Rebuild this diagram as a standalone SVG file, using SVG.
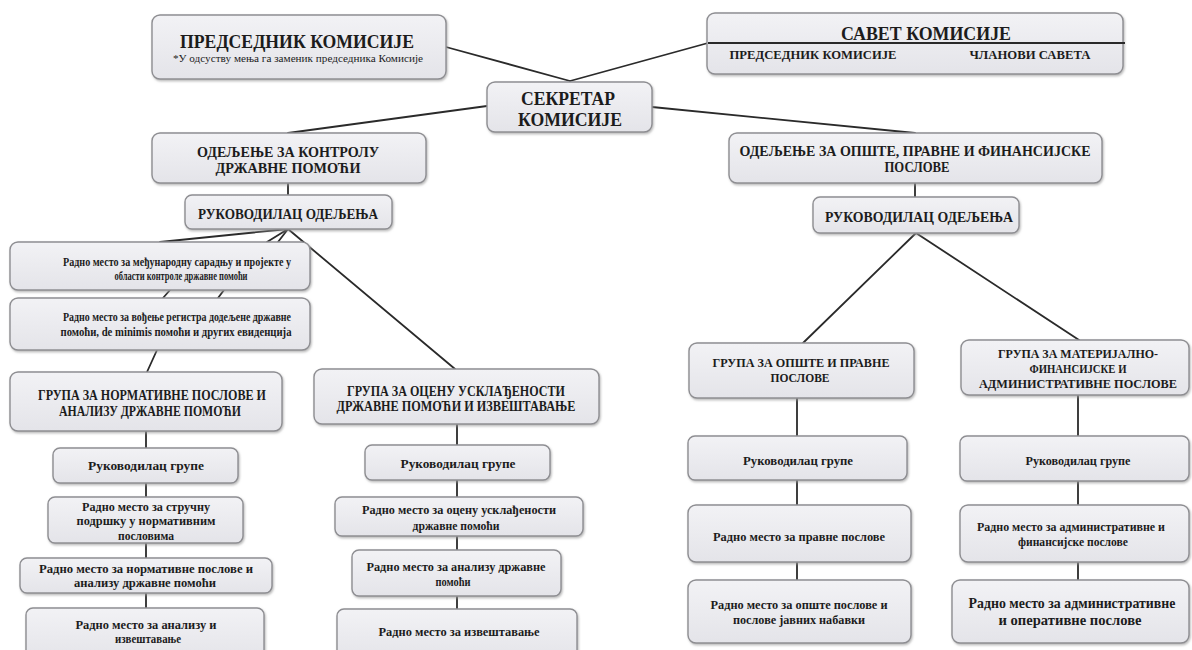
<svg xmlns="http://www.w3.org/2000/svg" width="1192" height="650" viewBox="0 0 1192 650">
<defs>
<linearGradient id="g" x1="0" y1="0" x2="0" y2="1">
<stop offset="0" stop-color="#f2f2f5"/>
<stop offset="1" stop-color="#e4e4e9"/>
</linearGradient>
<filter id="sh" x="-5%" y="-10%" width="110%" height="125%">
<feDropShadow dx="1" dy="1.5" stdDeviation="0.8" flood-color="#9a9a9a" flood-opacity="0.7"/>
</filter>
</defs>
<style>
.box{fill:url(#g);stroke:#8e8e92;stroke-width:1.4;filter:url(#sh)}
.t{font-family:"Liberation Serif","Times New Roman",serif;font-weight:bold;fill:#1c1c1c;text-anchor:middle}
.h17{font-size:18px}
.h14{font-size:14px}
.h13{font-size:14px}
.h12{font-size:13px}
.h11{font-size:12.5px}
.h10{font-size:11.5px}
.h9{font-size:10px}
.conn line{stroke:#2a2a2a;stroke-width:1.8;stroke-linecap:round}
</style>
<rect width="1192" height="650" fill="#ffffff"/>

<g id="connectors" class="conn">
<line x1="446" y1="47" x2="570" y2="81"/>
<line x1="570" y1="81" x2="708" y2="43"/>
<line x1="487" y1="106" x2="288" y2="133"/>
<line x1="652" y1="107" x2="915" y2="133"/>
<line x1="288" y1="183" x2="288" y2="195"/>
<line x1="915" y1="183" x2="915" y2="197"/>
<line x1="288" y1="229" x2="160" y2="242"/>
<line x1="288" y1="229" x2="267" y2="242"/>
<line x1="288" y1="229" x2="278" y2="242"/>
<line x1="288" y1="229" x2="455" y2="369"/>
<line x1="170" y1="290" x2="163" y2="298"/>
<line x1="224" y1="290" x2="218" y2="298"/>
<line x1="157" y1="350" x2="147" y2="372"/>
<line x1="146" y1="431" x2="146" y2="448"/>
<line x1="146" y1="483" x2="146" y2="497"/>
<line x1="146" y1="543" x2="146" y2="558"/>
<line x1="146" y1="593" x2="146" y2="608"/>
<line x1="457" y1="424" x2="457" y2="445"/>
<line x1="457" y1="480" x2="457" y2="497"/>
<line x1="457" y1="536" x2="457" y2="550"/>
<line x1="457" y1="596" x2="457" y2="609"/>
<line x1="916" y1="233" x2="803" y2="343"/>
<line x1="916" y1="233" x2="1079" y2="340"/>
<line x1="797" y1="398" x2="797" y2="436"/>
<line x1="797" y1="480" x2="797" y2="505"/>
<line x1="797" y1="562" x2="797" y2="580"/>
<line x1="1078" y1="395" x2="1078" y2="436"/>
<line x1="1078" y1="481" x2="1078" y2="505"/>
<line x1="1078" y1="562" x2="1078" y2="580"/>
</g>

<g id="predsednik">
<rect class="box" x="152" y="15" width="294" height="64" rx="8"/>
<text class="t h17" x="297" y="48" textLength="234" lengthAdjust="spacingAndGlyphs">ПРЕДСЕДНИК КОМИСИЈЕ</text>
<text class="t h9" x="298" y="62" style="font-weight:normal" textLength="250" lengthAdjust="spacingAndGlyphs">*У одсуству мења га заменик  председника  Комисије</text>
</g>

<g id="savet">
<rect class="box" x="707" y="13" width="416" height="61" rx="8"/>
<text class="t h17" x="926" y="40" textLength="170" lengthAdjust="spacingAndGlyphs">САВЕТ КОМИСИЈЕ</text>
<line x1="708" y1="43" x2="1125" y2="43" stroke="#2a2a2a" stroke-width="1.8"/>
<text class="t h11" x="813" y="59" textLength="167" lengthAdjust="spacingAndGlyphs">ПРЕДСЕДНИК  КОМИСИЈЕ</text>
<text class="t h11" x="1030" y="59" textLength="121" lengthAdjust="spacingAndGlyphs">ЧЛАНОВИ  САВЕТА</text>
</g>

<g id="sekretar">
<rect class="box" x="487" y="82" width="165" height="50" rx="8"/>
<text class="t h17" x="568" y="105" textLength="94" lengthAdjust="spacingAndGlyphs">СЕКРЕТАР</text>
<text class="t h17" x="570" y="126" textLength="104" lengthAdjust="spacingAndGlyphs">КОМИСИЈЕ</text>
</g>

<g id="odeljenje-kontrola">
<rect class="box" x="152" y="133" width="274" height="50" rx="8"/>
<text class="t h13" x="288" y="157" textLength="182" lengthAdjust="spacingAndGlyphs">ОДЕЉЕЊЕ ЗА КОНТРОЛУ</text>
<text class="t h13" x="288" y="173" textLength="145" lengthAdjust="spacingAndGlyphs">ДРЖАВНЕ ПОМОЋИ</text>
</g>

<g id="odeljenje-opste">
<rect class="box" x="729" y="133" width="373" height="50" rx="8"/>
<text class="t h13" x="915" y="156" textLength="351" lengthAdjust="spacingAndGlyphs">ОДЕЉЕЊЕ ЗА ОПШТЕ, ПРАВНЕ И ФИНАНСИЈСКЕ</text>
<text class="t h13" x="917" y="172" textLength="65" lengthAdjust="spacingAndGlyphs">ПОСЛОВЕ</text>
</g>

<g id="rukovodilac-odeljenja-l">
<rect class="box" x="185" y="195" width="207" height="34" rx="7"/>
<text class="t h13" x="288" y="219" textLength="180" lengthAdjust="spacingAndGlyphs">РУКОВОДИЛАЦ  ОДЕЉЕЊА</text>
</g>

<g id="rukovodilac-odeljenja-r">
<rect class="box" x="813" y="197" width="206" height="36" rx="7"/>
<text class="t h13" x="919" y="222" textLength="188" lengthAdjust="spacingAndGlyphs">РУКОВОДИЛАЦ  ОДЕЉЕЊА</text>
</g>

<g id="rm-medjunarodna">
<rect class="box" x="10" y="242" width="300" height="48" rx="8"/>
<text class="t h10" x="177" y="266" textLength="228" lengthAdjust="spacingAndGlyphs">Радно место за међународну сарадњу и пројекте у</text>
<text class="t h10" x="181" y="280" textLength="133" lengthAdjust="spacingAndGlyphs">области контроле државне помоћи</text>
</g>

<g id="rm-registar">
<rect class="box" x="10" y="298" width="300" height="52" rx="8"/>
<text class="t h10" x="177" y="321" textLength="228" lengthAdjust="spacingAndGlyphs">Радно место за вођење регистра додељене државне</text>
<text class="t h10" x="176" y="336" textLength="231" lengthAdjust="spacingAndGlyphs">помоћи, de minimis помоћи и других евиденција</text>
</g>

<g id="grupa-normativne">
<rect class="box" x="10" y="372" width="272" height="59" rx="8"/>
<text class="t h13" x="152" y="400" textLength="228" lengthAdjust="spacingAndGlyphs">ГРУПА ЗА НОРМАТИВНЕ  ПОСЛОВЕ  И</text>
<text class="t h13" x="150" y="416" textLength="182" lengthAdjust="spacingAndGlyphs">АНАЛИЗУ ДРЖАВНЕ  ПОМОЋИ</text>
</g>

<g id="grupa-ocena">
<rect class="box" x="314" y="369" width="285" height="55" rx="8"/>
<text class="t h13" x="456" y="396" textLength="218" lengthAdjust="spacingAndGlyphs">ГРУПА  ЗА ОЦЕНУ  УСКЛАЂЕНОСТИ</text>
<text class="t h13" x="456" y="411" textLength="239" lengthAdjust="spacingAndGlyphs">ДРЖАВНЕ  ПОМОЋИ  И ИЗВЕШТАВАЊЕ</text>
</g>

<g id="rg-normativne">
<rect class="box" x="53" y="448" width="185" height="35" rx="7"/>
<text class="t h11" x="146" y="470" textLength="116" lengthAdjust="spacingAndGlyphs">Руководилац групе</text>
</g>

<g id="rm-strucna">
<rect class="box" x="48" y="497" width="195" height="46" rx="7"/>
<text class="t h10" x="146" y="511" textLength="128" lengthAdjust="spacingAndGlyphs">Радно место за стручну</text>
<text class="t h10" x="146" y="525" textLength="139" lengthAdjust="spacingAndGlyphs">подршку  у нормативним</text>
<text class="t h10" x="146" y="540" textLength="56" lengthAdjust="spacingAndGlyphs">пословима</text>
</g>

<g id="rm-normativne">
<rect class="box" x="20" y="558" width="252" height="35" rx="7"/>
<text class="t h10" x="146" y="573" textLength="214" lengthAdjust="spacingAndGlyphs">Радно место за нормативне  послове  и</text>
<text class="t h10" x="145" y="587" textLength="142" lengthAdjust="spacingAndGlyphs">анализу  државне  помоћи</text>
</g>

<g id="rm-analiza-izvestavanje">
<rect class="box" x="26" y="608" width="238" height="52" rx="7"/>
<text class="t h10" x="146" y="629" textLength="141" lengthAdjust="spacingAndGlyphs">Радно место за анализу  и</text>
<text class="t h10" x="148" y="643" textLength="66" lengthAdjust="spacingAndGlyphs">извештавање</text>
</g>

<g id="rg-ocena">
<rect class="box" x="365" y="445" width="185" height="35" rx="7"/>
<text class="t h11" x="458" y="468" textLength="115" lengthAdjust="spacingAndGlyphs">Руководилац групе</text>
</g>

<g id="rm-ocena">
<rect class="box" x="335" y="497" width="248" height="39" rx="7"/>
<text class="t h10" x="459" y="514" textLength="194" lengthAdjust="spacingAndGlyphs">Радно место за оцену  усклађености</text>
<text class="t h10" x="456" y="530" textLength="87" lengthAdjust="spacingAndGlyphs">државне помоћи</text>
</g>

<g id="rm-analiza">
<rect class="box" x="352" y="550" width="209" height="46" rx="7"/>
<text class="t h10" x="456" y="571" textLength="179" lengthAdjust="spacingAndGlyphs">Радно место за анализу  државне</text>
<text class="t h10" x="453" y="586" textLength="35" lengthAdjust="spacingAndGlyphs">помоћи</text>
</g>

<g id="rm-izvestavanje">
<rect class="box" x="337" y="609" width="240" height="52" rx="7"/>
<text class="t h10" x="459" y="636" textLength="161" lengthAdjust="spacingAndGlyphs">Радно место за извештавање</text>
</g>

<g id="grupa-opste">
<rect class="box" x="689" y="343" width="225" height="55" rx="8"/>
<text class="t h12" x="801" y="367" textLength="177" lengthAdjust="spacingAndGlyphs">ГРУПА  ЗА ОПШТЕ  И ПРАВНЕ</text>
<text class="t h12" x="800" y="382" textLength="59" lengthAdjust="spacingAndGlyphs">ПОСЛОВЕ</text>
</g>

<g id="grupa-materijalno">
<rect class="box" x="961" y="340" width="228" height="55" rx="8"/>
<text class="t h12" x="1078" y="358" textLength="160" lengthAdjust="spacingAndGlyphs">ГРУПА  ЗА МАТЕРИЈАЛНО-</text>
<text class="t h12" x="1078" y="373" textLength="97" lengthAdjust="spacingAndGlyphs">ФИНАНСИЈСКЕ  И</text>
<text class="t h12" x="1078" y="388" textLength="198" lengthAdjust="spacingAndGlyphs">АДМИНИСТРАТИВНЕ  ПОСЛОВЕ</text>
</g>

<g id="rg-opste">
<rect class="box" x="688" y="436" width="219" height="44" rx="7"/>
<text class="t h10" x="798" y="465" textLength="110" lengthAdjust="spacingAndGlyphs">Руководилац  групе</text>
</g>

<g id="rm-pravne">
<rect class="box" x="688" y="505" width="223" height="57" rx="8"/>
<text class="t h10" x="799" y="541" textLength="172" lengthAdjust="spacingAndGlyphs">Радно место за правне  послове</text>
</g>

<g id="rm-opste">
<rect class="box" x="688" y="580" width="223" height="63" rx="8"/>
<text class="t h10" x="799" y="609" textLength="177" lengthAdjust="spacingAndGlyphs">Радно место за опште  послове  и</text>
<text class="t h10" x="799" y="624" textLength="132" lengthAdjust="spacingAndGlyphs">послове  јавних  набавки</text>
</g>

<g id="rg-materijalno">
<rect class="box" x="960" y="436" width="229" height="45" rx="7"/>
<text class="t h10" x="1078" y="465" textLength="105" lengthAdjust="spacingAndGlyphs">Руководилац  групе</text>
</g>

<g id="rm-adm-fin">
<rect class="box" x="960" y="505" width="229" height="57" rx="8"/>
<text class="t h10" x="1071" y="531" textLength="188" lengthAdjust="spacingAndGlyphs">Радно место за административне  и</text>
<text class="t h10" x="1073" y="546" textLength="110" lengthAdjust="spacingAndGlyphs">финансијске  послове</text>
</g>

<g id="rm-adm-oper">
<rect class="box" x="952" y="580" width="237" height="63" rx="8"/>
<text class="t h13" x="1072" y="608" textLength="207" lengthAdjust="spacingAndGlyphs">Радно место за административне</text>
<text class="t h13" x="1070" y="625" textLength="143" lengthAdjust="spacingAndGlyphs">и оперативне послове</text>
</g>
</svg>
